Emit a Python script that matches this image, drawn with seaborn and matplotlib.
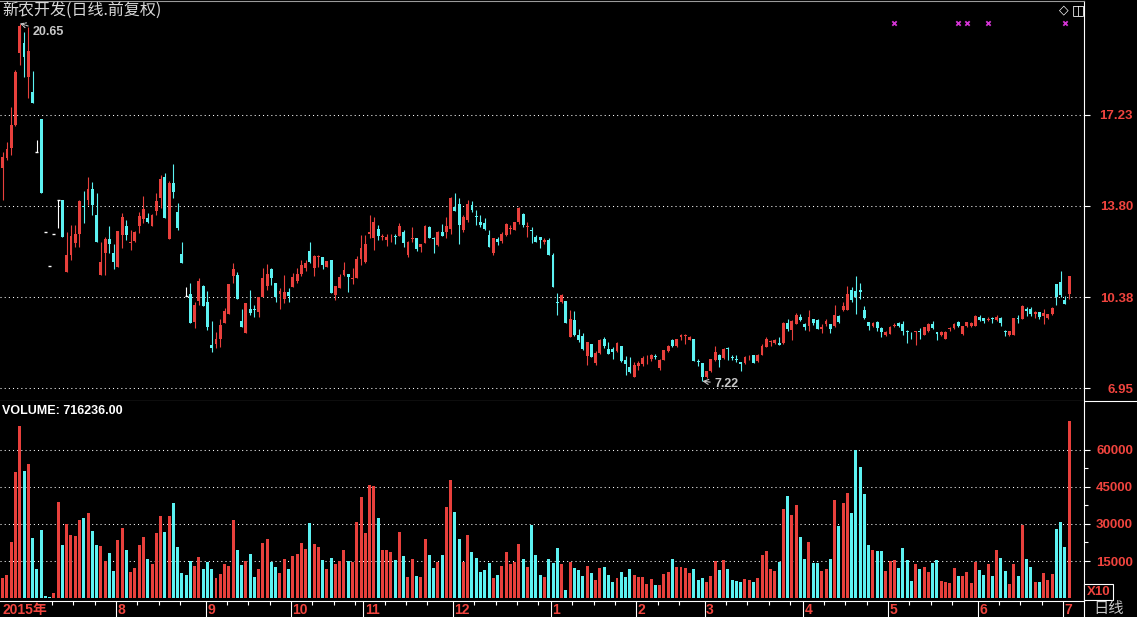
import numpy as np
import pandas as pd
import matplotlib
matplotlib.use("Agg")
import matplotlib.pyplot as plt
import matplotlib.transforms as mtransforms
import seaborn as sns

# ---------------- data ----------------
title = "新农开发(日线.前复权)"

opens = [
    15.21, 15.59, 15.96, 16.84, 19.55, 19.93, 18.63, 18.09, 15.84, 17.07, 12.83, 11.54, 12.75, 14.02, 14.02,
    11.33, 11.96, 12.41, 12.75, 13.80, 14.02, 14.44, 13.46, 11.21, 12.03, 12.56, 12.03, 11.51, 12.71, 13.05,
    12.41, 12.48, 13.05, 13.31, 13.35, 13.05, 13.61, 14.10, 14.89, 12.56, 14.66, 13.57, 11.99, 10.43, 10.48,
    9.44, 10.23, 10.79, 10.19, 8.58, 8.62, 8.80, 9.42, 9.74, 11.17, 11.21, 9.49, 9.04, 9.92, 9.93,
    9.83, 10.37, 10.79, 11.42, 10.92, 10.48, 10.29, 10.58, 10.77, 10.98, 11.23, 11.48, 12.11, 11.46, 11.90,
    11.87, 11.52, 11.77, 10.46, 10.71, 11.21, 11.23, 11.07, 11.11, 11.81, 11.71, 12.73, 12.58, 12.93, 12.63,
    12.52, 12.62, 12.66, 12.68, 12.83, 11.96, 12.56, 12.58, 12.27, 12.40, 13.01, 12.61, 12.33, 12.83, 12.81,
    12.93, 13.77, 13.89, 12.89, 13.27, 13.83, 13.42, 13.21, 13.15, 12.71, 12.02, 12.56, 12.48, 12.71, 12.93,
    12.89, 13.21, 13.48, 13.00, 12.89, 12.64, 12.64, 12.43, 12.52, 11.96, 10.20, 10.20, 10.24, 8.89, 9.51,
    8.95, 8.91, 8.15, 8.61, 7.90, 8.28, 8.82, 8.44, 8.41, 8.36, 8.53, 8.03, 7.75, 7.37, 7.78,
    7.88, 8.04, 8.04, 8.16, 7.73, 8.00, 8.36, 8.76, 8.53, 8.86, 8.93, 8.76, 8.82, 7.97, 7.90,
    7.37, 7.60, 8.00, 8.19, 8.10, 8.48, 8.12, 8.05, 7.94, 7.90, 8.11, 8.19, 7.98, 8.19, 8.50,
    8.68, 8.66, 8.66, 8.66, 9.41, 9.13, 9.38, 9.63, 9.35, 9.29, 9.54, 9.51, 9.16, 9.35, 9.35,
    9.29, 9.67, 9.89, 9.89, 10.63, 10.60, 10.65, 9.89, 9.45, 9.30, 9.45, 9.20, 8.95, 9.00, 9.31,
    9.40, 9.36, 9.12, 9.04, 9.05, 9.10, 8.97, 9.11, 9.36, 9.07, 8.97, 8.79, 9.17, 9.22, 9.45,
    9.00, 9.31, 9.30, 9.30, 9.63, 9.58, 9.53, 9.58, 9.53, 9.58, 9.12, 8.96, 8.96, 9.59, 9.55,
    9.92, 9.92, 9.76, 9.80, 9.67, 9.61, 9.76, 10.85, 10.94, 10.28, 10.51,
]
highs = [
    15.84, 16.21, 17.53, 18.90, 20.65, 20.34, 20.53, 18.88, 16.28, 17.07, 12.83, 11.54, 12.75, 14.02, 14.02,
    12.83, 13.08, 13.08, 14.02, 14.37, 14.89, 14.70, 14.29, 12.46, 12.63, 13.05, 12.37, 12.86, 13.53, 13.27,
    12.90, 12.86, 13.57, 14.17, 13.53, 13.50, 14.29, 14.96, 15.05, 14.75, 15.37, 13.91, 12.45, 10.74, 10.89,
    10.19, 11.09, 10.83, 10.61, 9.49, 9.07, 9.54, 9.96, 10.86, 11.67, 11.33, 9.92, 10.14, 10.64, 10.08,
    10.39, 11.46, 11.62, 11.46, 10.92, 10.71, 11.21, 10.71, 11.27, 11.46, 11.77, 11.77, 12.43, 11.96, 11.96,
    11.87, 11.75, 11.77, 10.79, 11.23, 11.68, 11.23, 11.46, 11.93, 12.71, 12.71, 13.46, 13.40, 13.08, 12.73,
    12.73, 12.73, 12.73, 13.15, 12.89, 12.48, 13.02, 12.61, 12.36, 13.08, 13.03, 12.64, 12.86, 13.11, 13.40,
    14.15, 14.27, 14.09, 13.46, 14.02, 13.99, 13.65, 13.46, 13.36, 12.89, 12.58, 12.64, 12.83, 13.15, 13.08,
    13.21, 13.77, 13.52, 13.18, 13.02, 12.71, 12.64, 12.58, 12.58, 12.02, 10.52, 10.49, 10.24, 9.88, 9.86,
    9.16, 9.01, 8.70, 8.63, 8.35, 8.82, 8.86, 8.70, 8.50, 8.70, 8.53, 8.15, 8.12, 7.94, 7.97,
    8.15, 8.19, 8.23, 8.23, 8.07, 8.38, 8.57, 8.82, 8.82, 8.99, 8.99, 8.91, 8.82, 8.07, 7.90,
    7.62, 8.07, 8.53, 8.23, 8.48, 8.50, 8.22, 8.22, 7.94, 8.15, 8.19, 8.19, 8.23, 8.63, 8.86,
    8.76, 8.82, 8.86, 9.44, 9.54, 9.51, 9.79, 9.76, 9.41, 9.88, 9.57, 9.57, 9.38, 9.54, 9.35,
    10.07, 9.71, 10.18, 10.79, 10.76, 11.16, 10.90, 10.05, 9.45, 9.45, 9.48, 9.27, 9.10, 9.30, 9.40,
    9.45, 9.49, 9.14, 9.07, 9.12, 9.20, 9.27, 9.40, 9.48, 9.07, 9.10, 9.10, 9.26, 9.40, 9.49,
    9.31, 9.45, 9.43, 9.69, 9.69, 9.61, 9.63, 9.63, 9.69, 9.62, 9.15, 9.12, 9.58, 9.69, 10.09,
    10.00, 10.00, 9.87, 9.83, 9.92, 9.76, 10.01, 10.85, 11.36, 10.40, 11.16,
]
lows = [
    14.02, 15.52, 15.71, 16.80, 19.09, 18.65, 17.86, 17.68, 15.84, 14.30, 12.83, 11.54, 12.75, 12.98, 12.63,
    11.33, 11.77, 12.26, 12.26, 13.17, 13.83, 13.46, 12.46, 11.21, 11.21, 12.03, 11.43, 11.51, 12.22, 12.52,
    12.14, 12.45, 12.78, 13.16, 13.16, 13.05, 13.46, 13.72, 13.35, 12.56, 14.10, 12.90, 11.66, 10.43, 9.39,
    9.22, 10.08, 10.04, 9.14, 8.33, 8.47, 8.49, 9.42, 9.74, 10.92, 10.29, 9.27, 9.04, 9.70, 9.64,
    9.62, 10.37, 10.64, 10.83, 10.20, 9.92, 10.14, 10.20, 10.77, 10.92, 11.18, 11.36, 11.65, 11.18, 11.52,
    11.42, 11.50, 10.54, 10.27, 10.71, 11.18, 10.55, 10.86, 11.11, 11.58, 11.65, 12.58, 12.14, 12.52, 12.52,
    12.31, 12.43, 12.36, 12.68, 12.24, 11.90, 12.43, 12.11, 12.08, 12.40, 12.58, 12.02, 12.31, 12.68, 12.61,
    12.73, 13.61, 12.36, 12.83, 13.21, 13.58, 13.08, 13.02, 12.89, 12.27, 11.96, 12.33, 12.40, 12.68, 12.73,
    12.89, 13.11, 13.02, 12.64, 12.40, 12.43, 12.21, 12.36, 11.96, 10.77, 9.69, 10.14, 9.42, 8.89, 8.91,
    8.70, 8.38, 7.81, 8.12, 7.81, 8.25, 8.48, 8.23, 8.07, 8.32, 7.94, 7.47, 7.52, 7.37, 7.65,
    7.78, 7.85, 7.98, 8.07, 7.65, 8.00, 8.32, 8.50, 8.50, 8.76, 8.63, 8.76, 7.98, 7.78, 7.22,
    7.34, 7.57, 7.98, 7.75, 8.07, 8.03, 8.00, 7.94, 7.62, 7.88, 8.03, 7.90, 7.94, 8.19, 8.50,
    8.53, 8.63, 8.57, 8.63, 9.10, 8.76, 9.38, 9.47, 9.13, 9.10, 9.32, 9.16, 9.01, 9.29, 9.01,
    9.26, 9.40, 9.86, 9.89, 10.20, 9.73, 10.32, 9.57, 9.14, 9.26, 9.10, 8.89, 8.91, 8.99, 9.27,
    9.27, 8.97, 8.67, 8.82, 8.57, 8.80, 8.95, 9.07, 9.19, 8.75, 8.93, 8.79, 9.12, 9.17, 9.27,
    8.97, 9.26, 9.27, 9.30, 9.48, 9.41, 9.48, 9.41, 9.49, 9.31, 8.92, 8.92, 8.96, 9.40, 9.55,
    9.65, 9.66, 9.60, 9.57, 9.38, 9.57, 9.72, 10.07, 10.38, 10.10, 10.32,
]
closes = [
    15.65, 15.94, 16.84, 18.84, 20.55, 19.38, 19.63, 17.68, 15.84, 14.30, 12.83, 11.54, 12.75, 14.02, 12.63,
    11.96, 12.67, 12.75, 13.99, 13.76, 14.44, 13.83, 12.46, 11.71, 12.56, 12.37, 11.69, 12.86, 13.38, 12.71,
    12.44, 12.82, 13.42, 13.68, 13.20, 13.46, 13.98, 14.81, 13.35, 14.66, 14.32, 12.97, 11.66, 10.43, 9.39,
    10.08, 10.98, 10.04, 9.27, 8.47, 8.81, 9.33, 9.87, 10.86, 11.42, 10.29, 9.27, 10.14, 9.77, 9.89,
    10.39, 11.08, 11.23, 11.08, 10.39, 10.61, 10.58, 10.42, 11.12, 11.23, 11.58, 11.65, 11.71, 11.92, 11.92,
    11.58, 11.73, 10.54, 10.79, 11.14, 11.39, 11.14, 11.11, 11.81, 12.21, 12.36, 12.83, 13.21, 12.68, 12.67,
    12.64, 12.65, 12.63, 13.06, 12.40, 12.46, 12.60, 12.18, 12.36, 13.06, 12.61, 12.56, 12.81, 12.68, 13.06,
    14.09, 13.61, 13.08, 13.40, 13.86, 13.65, 13.38, 13.08, 12.93, 12.27, 12.58, 12.43, 12.73, 13.11, 12.96,
    13.21, 13.71, 13.08, 13.03, 12.84, 12.46, 12.52, 12.52, 11.96, 10.77, 10.14, 10.45, 9.42, 9.57, 8.95,
    8.76, 8.41, 8.70, 8.12, 8.28, 8.76, 8.53, 8.25, 8.30, 8.66, 7.98, 7.85, 7.56, 7.81, 7.90,
    8.10, 8.07, 8.19, 8.14, 8.00, 8.38, 8.55, 8.53, 8.79, 8.95, 8.95, 8.89, 7.98, 7.93, 7.37,
    7.62, 8.07, 8.32, 8.03, 8.44, 8.41, 8.10, 8.01, 7.88, 8.12, 8.14, 7.90, 8.19, 8.53, 8.82,
    8.71, 8.76, 8.57, 9.41, 9.16, 9.47, 9.69, 9.51, 9.26, 9.63, 9.41, 9.19, 9.26, 9.47, 9.16,
    9.69, 9.46, 10.05, 10.51, 10.26, 10.38, 10.57, 9.60, 9.30, 9.40, 9.20, 9.07, 9.07, 9.27, 9.34,
    9.30, 9.11, 9.07, 9.01, 9.10, 9.06, 9.26, 9.36, 9.22, 9.00, 9.06, 9.07, 9.22, 9.37, 9.30,
    9.31, 9.45, 9.41, 9.65, 9.53, 9.49, 9.56, 9.55, 9.62, 9.41, 9.05, 9.12, 9.58, 9.56, 10.05,
    9.87, 9.74, 9.80, 9.64, 9.79, 9.73, 9.97, 10.38, 10.44, 10.13, 11.16,
]
volumes = [  # shown in units of x10
    8230, 9324, 22824, 51201, 69729, 51486, 54324, 24324, 11757, 27567, 811, 405, 2027, 38918, 21486,
    30000, 25540, 25135, 31621, 32432, 34459, 27162, 21486, 21081, 15000, 18243, 10946, 23513, 28378, 19459,
    10540, 12162, 21486, 24729, 15811, 13784, 26351, 33243, 26756, 33243, 38513, 20675, 10135, 9324, 15000,
    12973, 16621, 11757, 14594, 11757, 8108, 9730, 13784, 12973, 31621, 19459, 13378, 15000, 17838, 8513,
    11757, 22297, 23919, 14594, 12567, 10135, 15811, 11757, 17027, 17838, 22297, 19865, 30405, 21892, 20675,
    15405, 11757, 16216, 13784, 15000, 19459, 15000, 14594, 30810, 40945, 26351, 45810, 45405, 32432, 19459,
    19459, 18648, 15405, 26756, 17027, 8513, 15811, 8919, 8513, 23919, 17432, 12162, 14594, 17432, 36891,
    47837, 34864, 23919, 14594, 25540, 18648, 16216, 10540, 11351, 14189, 8108, 9324, 12973, 18648, 13784,
    14594, 21892, 15811, 12567, 29594, 17432, 9324, 8513, 15811, 14189, 20270, 13784, 3243, 14594, 12162,
    11351, 8919, 12973, 10135, 7297, 12162, 12567, 9324, 6486, 8108, 10540, 8513, 11757, 9324, 8513,
    8513, 5676, 7703, 5270, 5270, 9730, 10540, 15811, 12567, 12567, 12162, 10135, 11757, 7297, 8108,
    6486, 8919, 15000, 11351, 15405, 11757, 7297, 6892, 6486, 7703, 7297, 6486, 8108, 17432, 19054,
    11757, 10946, 14594, 36081, 41351, 33648, 37702, 24729, 15811, 22702, 14189, 14189, 10946, 11757, 15811,
    39729, 29189, 38513, 42567, 34459, 60000, 53107, 42162, 21486, 19459, 19054, 19054, 10946, 15000, 15405,
    12162, 20270, 15405, 6892, 13784, 11757, 12567, 10540, 14189, 15405, 6892, 6486, 6081, 12162, 8919,
    8919, 10540, 6081, 14594, 11351, 9324, 13784, 8919, 19459, 16216, 10946, 5676, 13784, 8919, 29594,
    15811, 12567, 6486, 6486, 10135, 7297, 9730, 27973, 30810, 20675, 71623.6,
]
month_labels = ["2015年", "8", "9", "10", "11", "12", "1", "2", "3", "4", "5", "6", "7"]
month_starts = [0, 27, 48, 68, 85, 106, 129, 149, 165, 188, 208, 229, 249]
price_ticks = [6.95, 10.38, 13.80, 17.23]
volume_ticks = [15000, 30000, 45000, 60000]
event_bars = [209, 224, 226, 231, 249]

# ---------------- style ----------------
sns.set_theme(style="dark", rc={
    "axes.facecolor": "black", "figure.facecolor": "black",
    "axes.edgecolor": "white", "text.color": "white",
    "xtick.color": "white", "ytick.color": "white",
})
plt.rcParams["font.family"] = ["Liberation Sans", "Noto Sans CJK SC", "DejaVu Sans"]

W, H = 1137, 617
RED = "#e8403c"
CYAN = "#5cf2f2"
LRED = "#f0443e"
GREY = "#c8c8c8"

O = np.array(opens); Hi = np.array(highs); L = np.array(lows); C = np.array(closes)
V = np.array(volumes, dtype=float)
n = len(O)
idx = np.arange(n)

prev_close = np.r_[C[0], C[:-1]]
vol_dir = np.where(C > O, "up", np.where(C < O, "down",
                   np.where(C >= prev_close, "up", "down")))
candle_col = np.where(C > O, RED, np.where(C < O, CYAN, "white"))

fig = plt.figure(figsize=(W / 100, H / 100), dpi=100, facecolor="black")
ax = fig.add_axes([0, 1 - 401 / H, 1084 / W, 400 / H])
axv = fig.add_axes([0, 1 - 601 / H, 1084 / W, 200 / H])

xlim = (-2.7 / 4.266, (1084 - 2.7) / 4.266)

# ---------------- price panel ----------------
ax.set_facecolor("black")
ax.set_axisbelow(True)
ax.vlines(idx, L, Hi, colors=candle_col, lw=0.8, zorder=2)
m = C != O
body_lo = np.minimum(O, C)
body_h = np.maximum(np.abs(C - O), 0.03)
ax.bar(idx[m], body_h[m], bottom=body_lo[m], width=0.68, color=candle_col[m],
       linewidth=0, zorder=3)
ax.hlines(C[~m], idx[~m] - 0.34, idx[~m] + 0.34, colors="white", lw=1.0, zorder=3)

ax.set_xlim(*xlim)
ax.set_ylim(6.475, 21.495)
ax.set_xticks([])
ax.yaxis.set_ticks_position("right")
ax.set_yticks(price_ticks, labels=[f"{t:.2f}" for t in price_ticks])
ax.tick_params(axis="y", which="major", right=True, left=False, labelright=True,
               labelleft=False, direction="out", length=4.3, width=0.8,
               color="white", pad=31, labelsize=9.5, labelcolor=LRED)
for lab in ax.get_yticklabels():
    lab.set_ha("right")
    lab.set_fontweight("bold")
ax.grid(True, axis="y", color="white", linestyle=(0, (1, 3)), linewidth=0.75)
ax.grid(False, axis="x")
for side in ("left",):
    ax.spines[side].set_visible(False)
ax.spines["top"].set_color("#9a9a9a")
for side in ("top", "right", "bottom"):
    ax.spines[side].set_linewidth(0.8)
ax.spines["right"].set_color("white")
ax.spines["bottom"].set_color("white")
ax.plot([1, W / 1084], [0, 0], transform=ax.transAxes, color="white", lw=0.8,
        clip_on=False)

# high / low annotations
imax = int(np.argmax(Hi))
imin = int(np.argmin(L))
ax.annotate(f"{Hi[imax]:.2f}", xy=(imax, Hi[imax]), xytext=(13, -8.5),
            textcoords="offset pixels", color=GREY, fontsize=9, fontweight="bold",
            ha="left", va="center",
            arrowprops=dict(arrowstyle="->", color=GREY, lw=0.8,
                            linestyle=(0, (2, 1)), shrinkA=1, shrinkB=0))
ax.annotate(f"{L[imin]:.2f}", xy=(imin, L[imin]), xytext=(12.5, -3),
            textcoords="offset pixels", color=GREY, fontsize=9, fontweight="bold",
            ha="left", va="center",
            arrowprops=dict(arrowstyle="->", color=GREY, lw=0.8,
                            shrinkA=1, shrinkB=0))

# event markers along the top
trans_ev = mtransforms.blended_transform_factory(ax.transData, ax.transAxes)
ax.scatter(event_bars, np.full(len(event_bars), (401 - 22.7) / 400),
           transform=trans_ev, marker="x", s=10, color="#d434d4",
           linewidths=1.3, clip_on=False, zorder=4)

# ---------------- volume panel ----------------
axv.set_facecolor("black")
axv.set_axisbelow(True)
df = pd.DataFrame({"bar": idx, "volume": V, "dir": vol_dir})
sns.barplot(data=df, x="bar", y="volume", hue="dir",
            palette={"up": RED, "down": CYAN}, native_scale=True, dodge=False,
            width=0.7, saturation=1, errorbar=None, legend=False, linewidth=0,
            ax=axv)
axv.set_xlabel("")
axv.set_ylabel("")
axv.set_xlim(*xlim)
axv.set_ylim(-1216, 79864)
axv.yaxis.set_ticks_position("right")
axv.set_yticks(volume_ticks, labels=[f"{t:d}" for t in volume_ticks])
axv.set_yticks([t - 7500 for t in volume_ticks[1:]] + [volume_ticks[-1] - 7500 + 0] if False else
               [7500 + 15000 * k for k in range(1, 4)], minor=True)
axv.tick_params(axis="y", which="major", right=True, left=False, labelright=True,
                labelleft=False, direction="out", length=4.3, width=0.8,
                color="white", pad=31, labelsize=9.5, labelcolor=LRED)
axv.tick_params(axis="y", which="minor", right=True, left=False, direction="out",
                length=3, width=0.8, color="white")
for lab in axv.get_yticklabels():
    lab.set_ha("right")
    lab.set_fontweight("bold")
axv.grid(True, axis="y", which="major", color="white", linestyle=(0, (1, 3)),
         linewidth=0.75)
axv.grid(False, axis="x")
axv.spines["left"].set_visible(False)
axv.spines["top"].set_visible(False)
for side in ("right", "bottom"):
    axv.spines[side].set_color("white")
    axv.spines[side].set_linewidth(0.8)
axv.plot([1, 1], [0, -16 / 200], transform=axv.transAxes, color="white", lw=0.8,
         clip_on=False)

# month ticks and labels
starts = np.array(month_starts)
tick_pos = starts - 0.45
minor_pos = []
for k in range(len(starts) - 1):
    s, e = starts[k], starts[k + 1]
    if k == 0:
        t = e - 5
        while t >= 10:
            minor_pos.append(t)
            t -= 5
    else:
        t = s + 5
        while t < e - 1:
            minor_pos.append(t)
            t += 5
axv.set_xticks(tick_pos[1:])
axv.set_xticklabels([])
axv.set_xticks(np.array(minor_pos) - 0.45, minor=True)
axv.tick_params(axis="x", which="major", bottom=True, direction="out",
                length=11.5, width=0.8, color="white")
axv.tick_params(axis="x", which="minor", bottom=True, direction="out",
                length=3, width=0.8, color="white")
tb = mtransforms.offset_copy(
    mtransforms.blended_transform_factory(axv.transData, axv.transAxes),
    fig=fig, x=1.5, y=-2, units="dots")
for pos, lab in zip(tick_pos, month_labels):
    axv.text(pos, 0, lab, transform=tb, ha="left", va="top", color=LRED,
             fontsize=10, fontweight="bold", clip_on=False)

# ---------------- texts ----------------
fig.text(2 / W, 1 - 10.5 / H, title, color="#d8d8d8", fontsize=11.5,
         family=["Noto Sans CJK SC", "DejaVu Sans"], ha="left", va="center")
fig.text(2 / W, 1 - 410.5 / H, f"VOLUME: {V[-1] * 10:.2f}", color="white",
         fontsize=9, fontweight="bold", ha="left", va="center")
fig.text(1059 / W, 1 - 10 / H, "◇", color="white", fontsize=9,
         family=["DejaVu Sans"], ha="left", va="center")
fig.text(1071.5 / W, 1 - 10 / H, "◫", color="white", fontsize=10,
         family=["DejaVu Sans"], ha="left", va="center")
fig.text(1098.5 / W, 1 - 592 / H, "X10", color=LRED, fontsize=9.5,
         fontweight="bold", ha="center", va="center",
         bbox=dict(boxstyle="square,pad=0.18", fc="black", ec="white", lw=0.8))
fig.text(1093 / W, 1 - 609 / H, "日线", color=GREY, fontsize=11,
         family=["Noto Sans CJK SC", "DejaVu Sans"], ha="left", va="center")

fig.savefig("out.png", dpi=100, facecolor="black")
